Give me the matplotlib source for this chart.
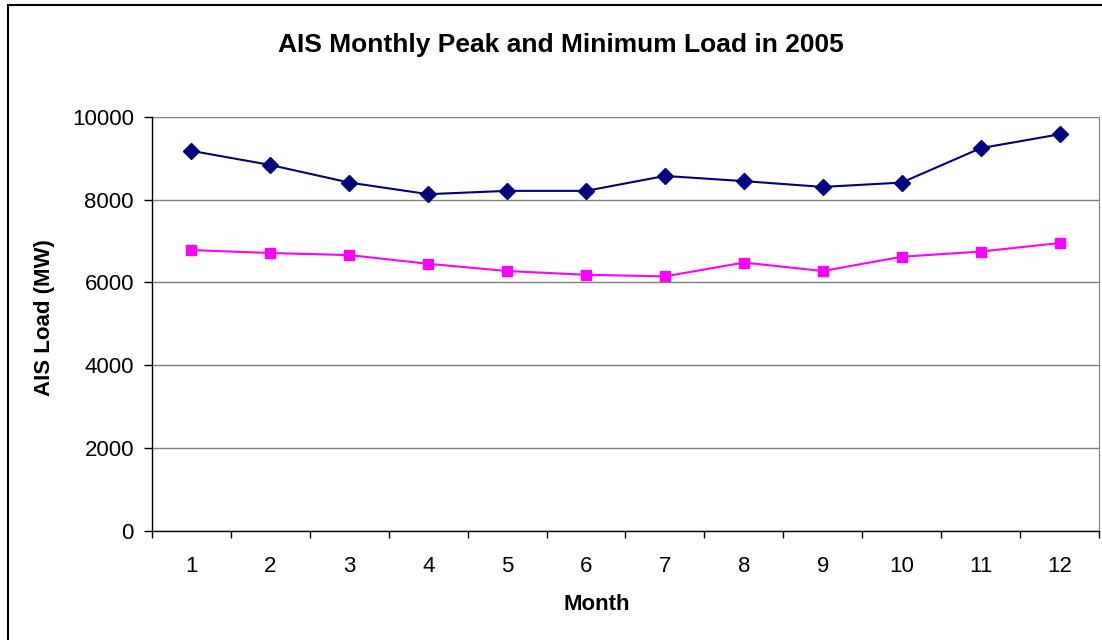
import matplotlib.pyplot as plt
from matplotlib.patches import Rectangle

# Monthly loads
months = [1, 2, 3, 4, 5, 6, 7, 8, 9, 10, 11, 12]
peak_load = [9175, 8835, 8410, 8130, 8210, 8210, 8570, 8445, 8305, 8410, 9240, 9575]
min_load = [6780, 6710, 6660, 6450, 6275, 6185, 6145, 6480, 6275, 6620, 6745, 6950]
y_ticks = [0, 2000, 4000, 6000, 8000, 10000]

plt.rcParams['font.family'] = ['Liberation Sans', 'DejaVu Sans']

W, H = 1102, 640
fig = plt.figure(figsize=(W / 100, H / 100), dpi=100)
ax = fig.add_axes([152 / W, 1 - 531 / H, (1099 - 152) / W, (531 - 116.7) / H])

# outer chart border (cut off on right/bottom like the source image)
fig.patches.append(Rectangle((8 / W, -0.05), 1.2, 1 - 5 / H + 0.05,
                             transform=fig.transFigure, fill=False,
                             edgecolor='black', linewidth=1.5))

ax.plot(months, peak_load, color='#000080', marker='D', markersize=8, linewidth=1.5)
ax.plot(months, min_load, color='#FF00FF', marker='s', markersize=7.5, linewidth=1.5)

ax.set_xlim(0.5, 12.5)
ax.set_ylim(0, 10000)
ax.set_yticks(y_ticks)
ax.set_xticks(months)
ax.set_xticks([m + 0.5 for m in [0] + months], minor=True)
ax.tick_params(axis='x', which='major', length=0, pad=18, labelsize=16)
ax.tick_params(axis='x', which='minor', length=5, width=1, direction='out')
ax.tick_params(axis='y', length=6, width=1, direction='out', pad=7, labelsize=16)

ax.grid(axis='y', color='#808080', linewidth=1)
ax.set_axisbelow(True)
ax.spines['top'].set_visible(False)
ax.spines['right'].set_color('#808080')
ax.spines['left'].set_linewidth(1)
ax.spines['bottom'].set_linewidth(1)

# titles placed where they sit in the original
fig.text(561 / W, 1 - 45 / H, 'AIS Monthly Peak and Minimum Load in 2005',
         fontsize=19, fontweight='bold', ha='center', va='center')
fig.text(597 / W, 1 - 605 / H, 'Month', fontsize=16, fontweight='bold',
         ha='center', va='center')
fig.text(45 / W, 1 - 318 / H, 'AIS Load (MW)', fontsize=16, fontweight='bold',
         ha='center', va='center', rotation=90)

fig.savefig('out.png', dpi=100)
